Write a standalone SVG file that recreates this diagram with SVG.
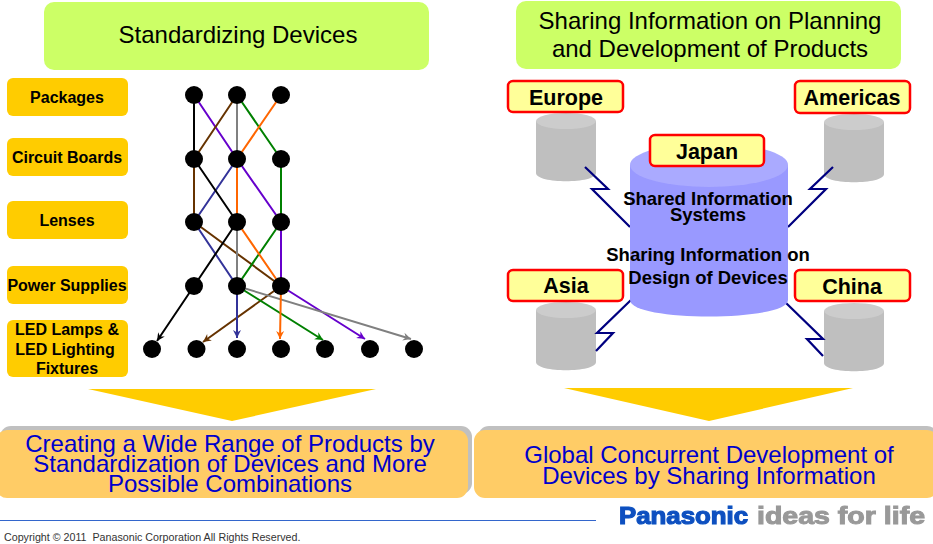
<svg xmlns="http://www.w3.org/2000/svg" width="933" height="544" viewBox="0 0 933 544">
<defs>
<marker id="a" markerWidth="10" markerHeight="10" refX="8" refY="5" orient="auto" markerUnits="userSpaceOnUse" overflow="visible"><path d="M0,1 L8,5 L0,9 L2.5,5 Z" fill="context-stroke"/></marker>
<g id="cyl"><path d="M-30,-26 V26 C-30,37 30,37 30,26 V-26 Z" fill="#bfbfbf"/><ellipse cx="0" cy="-26" rx="30" ry="8" fill="#cccccc"/></g>
<filter id="soft" x="-5%" y="-20%" width="110%" height="140%"><feGaussianBlur stdDeviation="0.5"/></filter>
</defs>
<style>
text{font-family:"Liberation Sans",Arial,sans-serif;text-anchor:middle}
.lb{font-size:16px;font-weight:bold;fill:#000}
.rg{font-size:21.5px;font-weight:bold;fill:#000}
.or{fill:#ffcc00}
.yl{fill:#ffff99;stroke:#ff0000;stroke-width:2.5}
.top{font-size:24px;fill:#000}
.bt{font-size:24px;fill:#0000cc}
.shared{font-size:18.5px;font-weight:bold;fill:#000}
.e{fill:none;stroke-width:2;stroke-linejoin:round}
.d{fill:#000}
.z{fill:none;stroke:#000080;stroke-width:2.2}
.tt{fill:#ccff66}
</style>
<rect width="933" height="544" fill="#fff"/>
<g id="title-left"><rect class="tt" x="44" y="2" width="385" height="68" rx="10"/><text class="top" x="238" y="43">Standardizing Devices</text></g>
<g id="title-right"><rect class="tt" x="516" y="1" width="385" height="68" rx="10"/><text class="top" x="710" y="29">Sharing Information on Planning</text><text class="top" x="710" y="57">and Development of Products</text></g>
<g id="cat-packages"><rect class="or" x="7" y="78" width="121" height="38" rx="6"/><text class="lb" x="67" y="103">Packages</text></g>
<g id="cat-circuit"><rect class="or" x="7" y="138" width="121" height="38" rx="6"/><text class="lb" x="67" y="163">Circuit Boards</text></g>
<g id="cat-lenses"><rect class="or" x="7" y="201" width="121" height="38" rx="6"/><text class="lb" x="67" y="226">Lenses</text></g>
<g id="cat-power"><rect class="or" x="7" y="266" width="121" height="38" rx="6"/><text class="lb" x="67" y="291">Power Supplies</text></g>
<g id="cat-led"><rect class="or" x="7" y="320" width="121" height="57" rx="6"/><text class="lb" x="67" y="335">LED Lamps &amp;</text><text class="lb" x="65" y="355">LED Lighting</text><text class="lb" x="67" y="374">Fixtures</text></g>
<g id="connectors">
<path class="e" style="stroke:#6600cc" d="M194,95 L237,159 L281,222 L281,286 L365,339" marker-end="url(#a)"/>
<path class="e" style="stroke:#663300" d="M237,95 L194,159 L194,222 L281,286 L203,342" marker-end="url(#a)"/>
<path class="e" style="stroke:#008000" d="M237,95 L281,159 L281,222 L237,286 L323,340" marker-end="url(#a)"/>
<path class="e" style="stroke:#333399" d="M237,95 L237,159 L194,222 L237,286 L237,338" marker-end="url(#a)"/>
<path class="e" style="stroke:#808080" d="M237,95 L237,286 L411,339" marker-end="url(#a)"/>
<path class="e" style="stroke:#ff6600" d="M281,95 L237,159 L237,222 L281,286 L280,339" marker-end="url(#a)"/>
<path class="e" style="stroke:#000" d="M194,95 L194,159 L237,222 L194,286 L157,341" marker-end="url(#a)"/>
</g>
<g id="dots">
<circle class="d" cx="194" cy="95" r="9"/><circle class="d" cx="237" cy="95" r="9"/><circle class="d" cx="281" cy="95" r="9"/>
<circle class="d" cx="194" cy="159" r="9"/><circle class="d" cx="237" cy="159" r="9"/><circle class="d" cx="281" cy="159" r="9"/>
<circle class="d" cx="194" cy="222" r="9"/><circle class="d" cx="237" cy="222" r="9"/><circle class="d" cx="281" cy="222" r="9"/>
<circle class="d" cx="194" cy="286" r="9"/><circle class="d" cx="237" cy="286" r="9"/><circle class="d" cx="281" cy="286" r="9"/>
<circle class="d" cx="152" cy="349" r="9"/><circle class="d" cx="196.500" cy="349" r="9"/><circle class="d" cx="237" cy="349" r="9"/><circle class="d" cx="281" cy="349" r="9"/><circle class="d" cx="325" cy="349" r="9"/><circle class="d" cx="370" cy="349" r="9"/><circle class="d" cx="414" cy="349" r="9"/>
</g>
<g id="db-europe"><use href="#cyl" x="566" y="147"/></g>
<g id="db-americas"><use href="#cyl" x="854" y="148"/></g>
<g id="db-asia"><use href="#cyl" x="566" y="336"/></g>
<g id="db-china"><use href="#cyl" x="854" y="337"/></g>
<g id="links">
<path class="z" d="M585,167 L608,189 L592,189 L630,227"/>
<path class="z" d="M833,167 L810,189 L826,189 L788,227"/>
<path class="z" d="M632,299 L597,333 L613,333 L596,351"/>
<path class="z" d="M785,302 L823,339 L807,339 L823,356"/>
</g>
<g id="db-shared"><path d="M630,165 V300 C630,322 788,322 788,300 V165 Z" fill="#9999ff"/><ellipse cx="709" cy="165" rx="79" ry="22" fill="#aaaaff"/>
<text class="shared" x="708" y="205">Shared Information</text><text class="shared" x="708" y="221">Systems</text><text class="shared" x="708" y="261">Sharing Information on</text><text class="shared" x="708" y="284">Design of Devices</text></g>
<g id="lab-europe"><rect class="yl" x="508" y="81" width="115" height="31" rx="5"/><text class="rg" x="566" y="105">Europe</text></g>
<g id="lab-americas"><rect class="yl" x="795" y="81" width="115" height="32" rx="5"/><text class="rg" x="852" y="105">Americas</text></g>
<g id="lab-japan"><rect class="yl" x="650" y="135" width="114" height="31" rx="5"/><text class="rg" x="707" y="159">Japan</text></g>
<g id="lab-asia"><rect class="yl" x="508" y="270" width="115" height="31" rx="5"/><text class="rg" x="566" y="293">Asia</text></g>
<g id="lab-china"><rect class="yl" x="795" y="270" width="115" height="31" rx="5"/><text class="rg" x="852" y="294">China</text></g>
<g id="arrow-left"><path class="or" d="M88,389 H376 L232,421 Z"/></g>
<g id="arrow-right"><path class="or" d="M564,388 H853 L709,421 Z"/></g>
<g id="result-left"><rect x="0" y="426" width="472" height="68" rx="11" fill="#c0c0c0"/><rect x="-4" y="430" width="472" height="68" rx="11" fill="#ffcc66"/><text class="bt" x="230" y="452">Creating a Wide Range of Products by</text><text class="bt" x="230" y="472">Standardization of Devices and More</text><text class="bt" x="230" y="492">Possible Combinations</text></g>
<g id="result-right"><rect x="478" y="426" width="460" height="68" rx="11" fill="#c0c0c0"/><rect x="474" y="430" width="464" height="68" rx="11" fill="#ffcc66"/><text class="bt" x="709" y="463">Global Concurrent Development of</text><text class="bt" x="709" y="484">Devices by Sharing Information</text></g>
<path id="rule" d="M0,520.5 H596" stroke="#3366cc" stroke-width="1" fill="none"/>
<g id="logo" filter="url(#soft)"><text x="683.500" y="524" textLength="129" lengthAdjust="spacingAndGlyphs" style="font-size:24px;font-weight:bold;fill:#0a50c0;stroke:#0a50c0;stroke-width:1.2">Panasonic</text><text x="841" y="524" textLength="168" lengthAdjust="spacingAndGlyphs" style="font-size:24px;font-weight:bold;fill:#999;stroke:#999;stroke-width:1">ideas for life</text></g>
<text x="4" y="541" xml:space="preserve" style="font-size:10.700px;fill:#333;text-anchor:start">Copyright © 2011  Panasonic Corporation All Rights Reserved.</text>
</svg>
